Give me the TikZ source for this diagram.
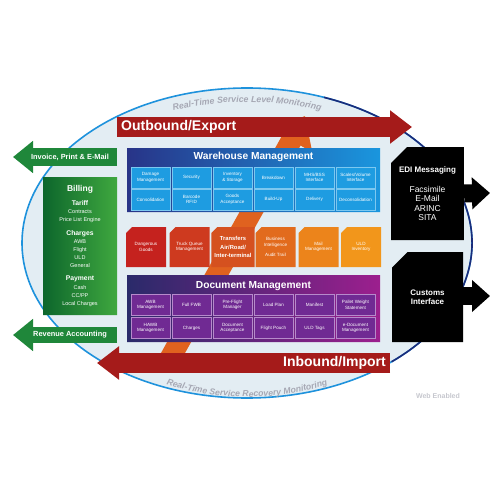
\documentclass[tikz,border=0pt]{standalone}
\usepackage{fontspec}
\setmainfont{Liberation Sans}
\usetikzlibrary{shapes.geometric,shapes.misc,arrows.meta,decorations.text}

\definecolor{ovalfill}{HTML}{E3EDF3}
\definecolor{ovalblue}{HTML}{1E92DC}
\definecolor{ovalnavy}{HTML}{1B2C7A}
\definecolor{monitorgray}{HTML}{A6A8B4}
\definecolor{webgray}{HTML}{C6C7CE}
\definecolor{flowred}{HTML}{A51B1A}
\definecolor{transorange}{HTML}{E0621F}
\definecolor{whdark}{HTML}{283488}
\definecolor{whlight}{HTML}{1A96DE}
\definecolor{whcellc}{HTML}{1E9CE1}
\definecolor{whedge}{HTML}{7CC8F0}
\definecolor{docdark}{HTML}{2A2A6A}
\definecolor{doclight}{HTML}{9C1F8E}
\definecolor{doccellc}{HTML}{702A93}
\definecolor{docedge}{HTML}{B68ACB}
\definecolor{billdark}{HTML}{0D662C}
\definecolor{billlight}{HTML}{3FA83F}
\definecolor{billgreen}{HTML}{1F873A}
\definecolor{mida}{HTML}{C5221E}
\definecolor{midb}{HTML}{CE3A1F}
\definecolor{midc}{HTML}{D5511F}
\definecolor{midd}{HTML}{E26B1D}
\definecolor{mide}{HTML}{EC841B}
\definecolor{midf}{HTML}{F2961B}

\tikzstyle{oval} = [ellipse, draw=ovalblue, line width=1.6pt, fill=ovalfill, minimum width=450pt, minimum height=310pt, inner sep=0pt]
\tikzstyle{flow} = [line width=20pt, flowred, -{Triangle[length=22pt,width=32pt]}]
\tikzstyle{flowtext} = [text=white, font=\bfseries\fontsize{14}{16}\selectfont, inner sep=0pt]
\tikzstyle{greenflow} = [line width=17pt, billgreen, -{Triangle[length=20pt,width=31pt]}]
\tikzstyle{blackflow} = [line width=18pt, black, -{Triangle[length=18pt,width=31pt]}]
\tikzstyle{arrowtext} = [text=white, font=\bfseries\fontsize{7.4}{9}\selectfont]
\tikzstyle{panel} = [chamfered rectangle, chamfered rectangle corners=north west, chamfered rectangle xsep=6pt, chamfered rectangle ysep=6pt, minimum width=253pt, inner sep=0pt]
\tikzstyle{paneltitle} = [text=white, font=\bfseries\fontsize{10.2}{12}\selectfont]
\tikzstyle{cell} = [rectangle, minimum width=39pt, minimum height=21pt, inner sep=0.5pt, align=center, text=white, font=\fontsize{4.6}{5.4}\selectfont, line width=0.4pt]
\tikzstyle{whcell} = [cell, fill=whcellc, draw=whedge]
\tikzstyle{doccell} = [cell, fill=doccellc, draw=docedge]
\tikzstyle{midbox} = [chamfered rectangle, chamfered rectangle corners=north west, chamfered rectangle xsep=3pt, chamfered rectangle ysep=3pt, minimum width=40pt, minimum height=40pt, inner sep=0pt, align=center, text=white, font=\fontsize{4.6}{5.4}\selectfont]
\tikzstyle{billbox} = [chamfered rectangle, chamfered rectangle corners=north west, chamfered rectangle xsep=9pt, chamfered rectangle ysep=9pt, minimum width=74pt, minimum height=138pt, inner sep=0pt, left color=billdark, right color=billlight]
\tikzstyle{billitem} = [text=white, align=center, font=\fontsize{5.5}{8.2}\selectfont]
\tikzstyle{blackbox} = [chamfered rectangle, chamfered rectangle corners=north west, chamfered rectangle xsep=8pt, chamfered rectangle ysep=8pt, minimum width=71pt, inner sep=0pt, fill=black, text=white, align=center, font=\fontsize{8.5}{9.5}\selectfont]

\begin{document}
\begin{tikzpicture}[x=1pt,y=-1pt]
  \useasboundingbox (0,0) rectangle (500,500);

  % oval and monitoring texts
  \node (oval) at (247,243) [oval] {};
  \draw [ovalnavy, line width=1.6pt] (oval.center) ++(-70:225 and 155) arc [start angle=-70, end angle=50, x radius=225, y radius=155];
  \path [decorate, decoration={text along path, text align=center, text color=monitorgray,
    text={|\bfseries\itshape\fontsize{8.8}{9}\selectfont|Real-Time Service Level Monitoring}}]
    (oval.center) ++(-135:215 and 141) arc [start angle=-135, end angle=-45, x radius=215, y radius=141];
  \path [decorate, decoration={text along path, text align=center, text color=monitorgray,
    text={|\bfseries\itshape\fontsize{8.7}{9}\selectfont|Real-Time Service Recovery Monitoring}}]
    (oval.center) ++(145:205 and 154) arc [start angle=145, end angle=35, x radius=205, y radius=154];

  \coordinate (tratail) at (168,362);
  \coordinate (tratip) at (305,116);
  \draw [transorange, line width=21pt, -{Triangle[length=28pt,width=46pt]}] (tratail) -- (tratip);

  % warehouse
  \node (whpanel) at (253.5,180) [panel, minimum height=64pt, left color=whdark, right color=whlight] {};
  \node (whtitle) at (253.5,156.5) [paneltitle] {Warehouse Management};
  \node (wa) at (150.5,177.5) [whcell] {Damage\\Management};
  \node (wb) at (191.5,177.5) [whcell] {Security};
  \node (wc) at (232.5,177.5) [whcell] {Inventory\\\& Storage};
  \node (wd) at (273.5,177.5) [whcell] {Breakdown};
  \node (we) at (314.5,177.5) [whcell] {MHS/BSS\\Interface};
  \node (wf) at (355.5,177.5) [whcell] {Scales/Volume\\Interface};
  \node (wg) at (150.5,199.5) [whcell] {Consolidation};
  \node (wh) at (191.5,199.5) [whcell] {Barcode\\RFID};
  \node (wi) at (232.5,199.5) [whcell] {Goods\\Acceptance};
  \node (wj) at (273.5,199.5) [whcell] {Build-Up};
  \node (wk) at (314.5,199.5) [whcell] {Delivery};
  \node (wl) at (355.5,199.5) [whcell] {Deconsolidation};

  % middle row
  \node (ma) at (146,247) [midbox, fill=mida] {Dangerous\\Goods};
  \node (mb) at (189.5,247) [midbox, fill=midb] {Truck Queue\\Management};
  \node (mc) at (233,247) [midbox, fill=midc, font=\bfseries\fontsize{5.8}{8.5}\selectfont] {Transfers\\Air/Road/\\Inter-terminal};
  \node (md) at (275.5,247) [midbox, fill=midd] {Business\\Intelligence\\[5pt]Audit Trail};
  \node (me) at (318.5,247) [midbox, fill=mide] {Mail\\Management};
  \node (mf) at (361,247) [midbox, fill=midf] {ULD\\Inventory};

  % documents
  \node (docpanel) at (253.5,308.5) [panel, minimum height=67pt, left color=docdark, right color=doclight] {};
  \node (doctitle) at (253.5,286) [paneltitle] {Document Management};
  \node (da) at (150.5,305) [doccell] {AWB\\Management};
  \node (db) at (191.5,305) [doccell] {Full FWB};
  \node (dc) at (232.5,305) [doccell] {Pre-Flight\\Manager};
  \node (dd) at (273.5,305) [doccell] {Load Plan};
  \node (de) at (314.5,305) [doccell] {Manifest};
  \node (df) at (355.5,305) [doccell] {Pallet Weight\\Statement};
  \node (dg) at (150.5,328) [doccell] {HAWB\\Management};
  \node (dh) at (191.5,328) [doccell] {Charges};
  \node (di) at (232.5,328) [doccell] {Document\\Acceptance};
  \node (dj) at (273.5,328) [doccell] {Flight Pouch};
  \node (dk) at (314.5,328) [doccell] {ULD Tags};
  \node (dl) at (355.5,328) [doccell] {e-Document\\Management};

  % outbound / inbound
  \coordinate (outtail) at (117,127);
  \coordinate (outtip) at (412,127);
  \coordinate (intail) at (390,363);
  \coordinate (intip) at (97,363);
  \draw [flow] (outtail) -- (outtip);
  \draw [flow] (intail) -- (intip);
  \node (out) at (121,127) [anchor=west, flowtext] {Outbound/Export};
  \node (in) at (386,363) [anchor=east, flowtext] {Inbound/Import};

  % billing side
  \coordinate (invtail) at (117,157);
  \coordinate (invtip) at (13,157);
  \coordinate (revtail) at (117,335);
  \coordinate (revtip) at (13,335);
  \draw [greenflow, line width=18pt] (invtail) -- (invtip);
  \draw [greenflow, line width=16pt] (revtail) -- (revtip);
  \node (inv) at (70,157) [arrowtext] {Invoice, Print \& E-Mail};
  \node (rev) at (70,335) [arrowtext] {Revenue Accounting};
  \node (bill) at (80,246) [billbox] {};
  \node (billhd) at (80,189) [text=white, font=\bfseries\fontsize{8.5}{10}\selectfont] {Billing};
  \node (tariff) at (80,211.5) [billitem] {{\bfseries\fontsize{6.8}{8.2}\selectfont Tariff}\\Contracts\\Price List Engine};
  \node (charges) at (80,249) [billitem] {{\bfseries\fontsize{6.8}{8.2}\selectfont Charges}\\AWB\\Flight\\ULD\\General};
  \node (payment) at (80,291.5) [billitem] {{\bfseries\fontsize{6.8}{8.2}\selectfont Payment}\\Cash\\CC/PP\\Local Charges};

  % messaging side
  \node (edi) at (427.5,193.5) [blackbox, minimum height=93pt] {{\bfseries\fontsize{8}{9.5}\selectfont EDI Messaging}\\[10.5pt]Facsimile\\E-Mail\\ARINC\\SITA};
  \node (cus) at (427.5,297) [blackbox, minimum height=90pt, font=\bfseries\fontsize{8}{9.5}\selectfont] {Customs\\Interface};
  \coordinate (editip) at (490,193);
  \coordinate (custip) at (490,296);
  \draw [blackflow] (edi.east) -- (editip);
  \draw [blackflow] (cus.east |- custip) -- (custip);

  \node (web) at (438,396) [text=webgray, font=\bfseries\fontsize{7}{8}\selectfont] {Web Enabled};
\end{tikzpicture}
\end{document}
